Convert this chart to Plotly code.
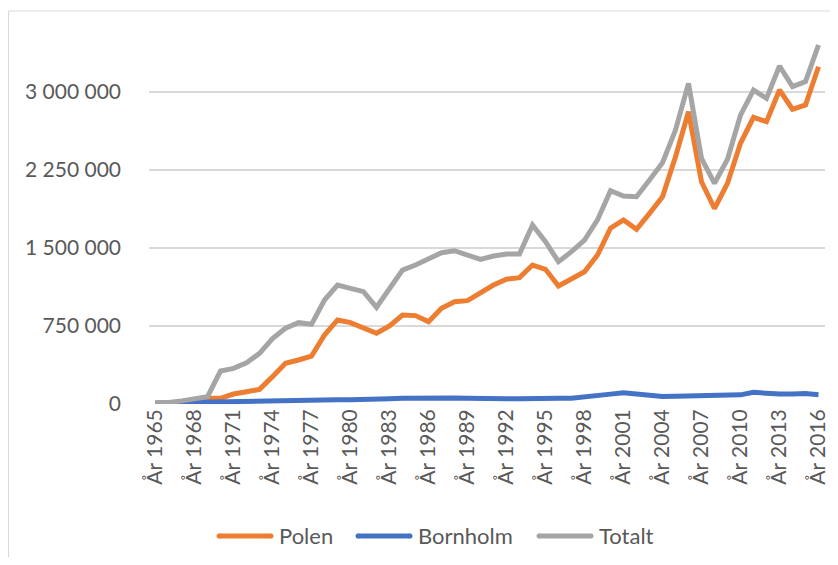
import plotly.graph_objects as go

years = list(range(1965, 2017))

polen = [5000, 5000, 15000, 30000, 55000, 55000, 96000, 118000, 141000, 263000,
         391000, 423000, 461000, 663000, 808000, 782000, 728000, 680000, 750000, 856000,
         850000, 792000, 920000, 984000, 994000, 1075000, 1144000, 1200000, 1215000, 1336000,
         1295000, 1135000, 1200000, 1272000, 1433000, 1690000, 1770000, 1680000, 1833000, 1993000,
         2378000, 2810000, 2137000, 1880000, 2122000, 2507000, 2757000, 2715000, 3019000, 2834000,
         2875000, 3243000]

bornholm = [10000, 12000, 15000, 20000, 25000, 30000, 30000, 28000, 35000, 40000,
            38000, 40000, 42000, 42000, 40000, 40000, 40000, 42000, 50000, 55000,
            58000, 55000, 60000, 58000, 55000, 50000, 48000, 50000, 50000, 55000,
            56000, 56000, 55000, 65000, 75000, 95000, 108000, 92000, 80000, 72000,
            75000, 78000, 80000, 82000, 85000, 88000, 112000, 100000, 96000, 95000,
            100000, 90000]

totalt = [15000, 15000, 30000, 55000, 70000, 317000, 343000, 397000, 487000, 630000,
          728000, 782000, 766000, 1000000, 1144000, 1112000, 1080000, 930000, 1112000, 1288000,
          1336000, 1390000, 1455000, 1474000, 1430000, 1390000, 1423000, 1442000, 1442000, 1721000,
          1560000, 1368000, 1465000, 1577000, 1770000, 2050000, 2000000, 1993000, 2154000, 2320000,
          2634000, 3083000, 2362000, 2122000, 2353000, 2778000, 3019000, 2939000, 3250000, 3051000,
          3100000, 3452000]

tick_years = list(range(1965, 2017, 3))
tick_labels = [f"År {y}" for y in tick_years]
y_ticks = [0, 750000, 1500000, 2250000, 3000000]
y_labels = ["0", "750 000", "1 500 000", "2 250 000", "3 000 000"]

series = [("Polen", polen, "#ED7D31"), ("Bornholm", bornholm, "#4472C4"), ("Totalt", totalt, "#A5A5A5")]

fig = go.Figure()
for name, vals, col in series:
    fig.add_trace(go.Scatter(x=years, y=vals, name=name, mode="lines", showlegend=False,
                             line=dict(color=col, width=5, shape="linear")))

# page body has an 8px margin: figure origin is at (8, 8) in the window
W, H = 830, 549
pl, pr, pt, pb = 141, 13, 6, 153
pw = W - pl - pr
ph = H - pt - pb


def px_x(x):
    return (x - pl) / pw


def px_y(y):
    return (ph + pt - y) / ph


font_family = "Lato, 'Open Sans', sans-serif"

# custom legend (Excel style: long line swatches)
legend_line_starts = [209, 348, 529]
legend_y = 528
shapes = [dict(type="rect", xref="paper", yref="paper",
               x0=px_x(0.5), x1=px_x(900), y0=px_y(700), y1=px_y(3),
               line=dict(color="#D9D9D9", width=1), layer="below")]
annotations = []
for (name, _, col), x0 in zip(series, legend_line_starts):
    shapes.append(dict(type="line", xref="paper", yref="paper",
                       x0=px_x(x0 + 2), x1=px_x(x0 + 54), y0=px_y(legend_y), y1=px_y(legend_y),
                       line=dict(color=col, width=5)))
    for cx in (x0 + 2, x0 + 54):
        shapes.append(dict(type="circle", xref="paper", yref="paper",
                           x0=px_x(cx - 2.5), x1=px_x(cx + 2.5),
                           y0=px_y(legend_y + 2.5), y1=px_y(legend_y - 2.5),
                           fillcolor=col, line=dict(width=0)))
    annotations.append(dict(text=name, xref="paper", yref="paper", x=px_x(x0 + 60), y=px_y(legend_y - 1),
                            xanchor="left", yanchor="middle", showarrow=False,
                            font=dict(family=font_family, size=22, color="#595959")))

fig.update_layout(
    width=W, height=H,
    margin=dict(l=pl, r=pr, t=pt, b=pb, autoexpand=False),
    paper_bgcolor="white", plot_bgcolor="white",
    font=dict(family=font_family, size=21, color="#595959"),
    showlegend=False,
    xaxis=dict(range=[1964.5, 2016.5], tickmode="array", tickvals=tick_years, ticktext=tick_labels,
               tickangle=-90, showgrid=False, zeroline=False, showline=False, ticks="",
               tickfont=dict(size=21, color="#595959"), automargin=False),
    yaxis=dict(range=[0, 3750000], tickmode="array", tickvals=y_ticks, ticktext=y_labels,
               showgrid=True, gridcolor="#D9D9D9", gridwidth=1.5, zeroline=False, showline=False,
               ticks="", ticklabelstandoff=27, tickfont=dict(size=21, color="#595959"),
               automargin=False),
    shapes=shapes,
    annotations=annotations,
)

fig.write_html("out.html")
